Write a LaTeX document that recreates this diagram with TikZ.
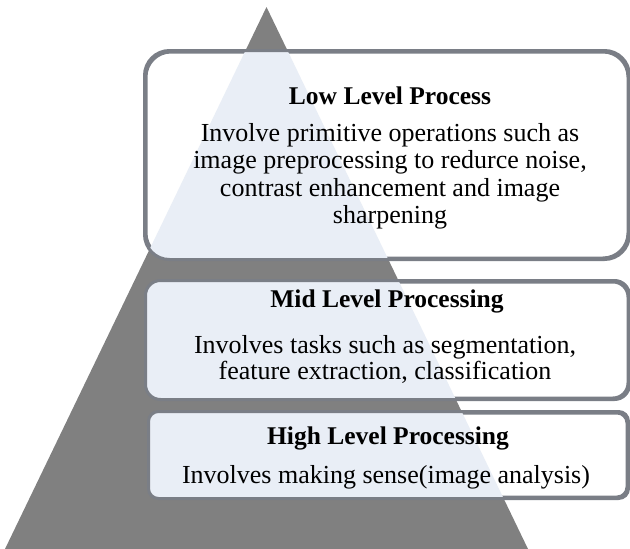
\documentclass[tikz,border=0pt]{standalone}
\usepackage{fontspec}
\setmainfont{Liberation Serif}
\definecolor{trigray}{RGB}{128,128,128}
\definecolor{boxline}{RGB}{122,126,134}
\definecolor{boxtint}{RGB}{233,238,246}
\tikzset{
  x=1pt, y=-1pt,
  boxshape/.style={draw=boxline, line width=3pt, fill=white, inner sep=0pt},
  titletext/.style={font=\fontsize{25.5}{28}\selectfont\bfseries, anchor=base, inner sep=0pt},
  bodytext/.style={font=\fontsize{26}{28}\selectfont, anchor=base, inner sep=0pt},
}
\begin{document}
\begin{tikzpicture}
\useasboundingbox (0,0) rectangle (630,549);
% pyramid
\fill[trigray] (266.5,7) -- (528,549) -- (5,549) -- cycle;
% boxes
\node[boxshape, rounded corners=25pt, minimum width=482pt, minimum height=206pt] (low) at (387,155) {};
\node[boxshape, rounded corners=15pt, minimum width=481pt, minimum height=116pt] (mid) at (387.5,340) {};
\node[boxshape, rounded corners=10pt, minimum width=477pt, minimum height=84pt] (high) at (388.5,455) {};
% tint where the pyramid lies under the boxes
\foreach \b/\r in {low/25pt, mid/15pt, high/10pt}{
  \begin{scope}
    \path[clip, rounded corners=\r] (\b.south west) rectangle (\b.north east);
    \fill[boxtint] (266.5,7) -- (528,549) -- (5,549) -- cycle;
  \end{scope}
  \draw[boxline, line width=3pt, rounded corners=\r] (\b.south west) rectangle (\b.north east);
}
% texts
\node[titletext] (lowt) at (390,104) {Low Level Process};
\node[bodytext] (low1) at (390,141.5) {Involve primitive operations such as};
\node[bodytext] (low2) at (390,168.5) {image preprocessing to redurce noise,};
\node[bodytext] (low3) at (390,196) {contrast enhancement and image};
\node[bodytext] (low4) at (390,223) {sharpening};
\node[titletext] (midt) at (387,307) {Mid Level Processing};
\node[bodytext] (mid1) at (385,353) {Involves tasks such as segmentation,};
\node[bodytext] (mid2) at (385,379) {feature extraction, classification};
\node[titletext] (hight) at (388,444) {High Level Processing};
\node[bodytext] (high1) at (386,483) {Involves making sense(image analysis)};
\end{tikzpicture}
\end{document}
